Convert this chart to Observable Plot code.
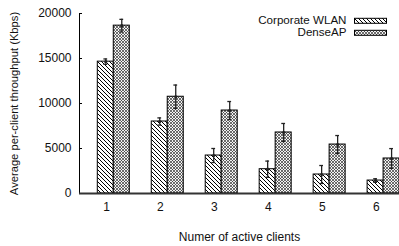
<!DOCTYPE html>
<html>
<head>
<meta charset="utf-8">
<script src="https://cdn.jsdelivr.net/npm/d3@7"></script>
<script src="https://cdn.jsdelivr.net/npm/@observablehq/plot@0.6"></script>
<style>
  html, body { margin: 0; padding: 0; background: #fff; }
  #chart { width: 399px; height: 246px; }
  svg { font-family: "Liberation Sans", Arial, Helvetica, sans-serif; }
</style>
</head>
<body>
<div id="chart"></div>
<script>
const clients = [1, 2, 3, 4, 5, 6];
const corporate = [14650, 8000, 4220, 2700, 2110, 1440];
const corporateErr = [300, 400, 780, 900, 1000, 200];
const dense = [18650, 10750, 9220, 6780, 5440, 3890];
const denseErr = [700, 1300, 1000, 1000, 1000, 1100];
const yTicks = [0, 5000, 10000, 15000, 20000];
const seriesNames = ["Corporate WLAN", "DenseAP"];
const xTitle = "Numer of active clients";
const yTitle = "Average per-client throughput (Kbps)";

// bar offsets within a cluster (in x units), relative to the tick position
const off = [[-0.161, 0.135], [0.135, 0.432]];
const fills = ["url(#hatch)", "url(#mesh)"];

const rows = [];
clients.forEach((c, i) => {
  rows.push({c, s: 0, v: corporate[i], e: corporateErr[i]});
  rows.push({c, s: 1, v: dense[i], e: denseErr[i]});
});
const mid = d => d.c + (off[d.s][0] + off[d.s][1]) / 2;
const cap = 0.035;

const marks = [
  Plot.rectY(rows.filter(d => d.s === 0), {x1: d => d.c + off[0][0], x2: d => d.c + off[0][1], y: "v", fill: fills[0], stroke: "#000", strokeWidth: 1}),
  Plot.rectY(rows.filter(d => d.s === 1), {x1: d => d.c + off[1][0], x2: d => d.c + off[1][1], y: "v", fill: fills[1], stroke: "#000", strokeWidth: 1}),
  Plot.ruleX(rows, {x: mid, y1: d => d.v - d.e, y2: d => d.v + d.e, stroke: "#222", strokeWidth: 1.3}),
  Plot.ruleY(rows, {y: d => d.v + d.e, x1: d => mid(d) - cap, x2: d => mid(d) + cap, stroke: "#222", strokeWidth: 1.3}),
  Plot.ruleY(rows, {y: d => d.v - d.e, x1: d => mid(d) - cap, x2: d => mid(d) + cap, stroke: "#222", strokeWidth: 1.3}),
  Plot.dot(rows, {x: mid, y: "v", r: 1.6, fill: "#222"}),
  Plot.ruleX([0.5], {y1: 0, y2: 20000, stroke: "#000", strokeWidth: 1}),
  Plot.tickY(yTicks, {y: d => d, insetRight: 317, stroke: "#000"}),
  Plot.ruleY([0], {stroke: "#333", strokeWidth: 2}),
  Plot.axisY({ticks: yTicks, tickSize: 0, tickPadding: 8, tickFormat: d => String(d), label: null, fontSize: 12, fill: "#111"}),
  Plot.axisX({ticks: clients, tickSize: 0, tickPadding: 9, tickFormat: d => String(d), label: null, fontSize: 12, fill: "#111"}),
  Plot.text([yTitle], {frameAnchor: "left", rotate: -90, dx: -65, fontSize: 11.2, fill: "#111", textAnchor: "middle", lineAnchor: "middle"}),
  Plot.text([xTitle], {frameAnchor: "bottom", dy: 44, fontSize: 12, fill: "#111", textAnchor: "middle", lineAnchor: "middle"})
];

const chart = Plot.plot({
  width: 399,
  height: 246,
  marginLeft: 79,
  marginRight: 0,
  marginTop: 13,
  marginBottom: 53,
  style: {fontFamily: '"Liberation Sans", Arial, Helvetica, sans-serif', background: "#fff"},
  x: {type: "linear", domain: [0.5, 6.43], axis: null},
  y: {domain: [0, 20000], axis: null},
  marks
});

const svg = d3.select(chart);
const defs = svg.insert("defs", ":first-child");
const hatch = defs.append("pattern").attr("id", "hatch").attr("patternUnits", "userSpaceOnUse").attr("width", 4).attr("height", 4);
hatch.append("rect").attr("width", 4).attr("height", 4).attr("fill", "#fff");
hatch.append("path").attr("d", "M-1,-1L5,5M-1,3L1,5M3,-1L5,1").attr("stroke", "#000").attr("stroke-width", 1);
const mesh = defs.append("pattern").attr("id", "mesh").attr("patternUnits", "userSpaceOnUse").attr("width", 3).attr("height", 3);
mesh.append("rect").attr("width", 3).attr("height", 3).attr("fill", "#f2f2f2");
mesh.append("path").attr("d", "M-1,-1L4,4M-1,2L1,4M2,-1L4,1M-1,4L4,-1M-1,1L1,-1M2,4L4,2")
  .attr("stroke", "#333").attr("stroke-width", 0.7);

// legend
const lg = svg.append("g").attr("class", "legend");
seriesNames.forEach((name, i) => {
  const cy = 20.3 + i * 12;
  lg.append("text").attr("x", 346.5).attr("y", cy).attr("dy", "0.35em").attr("text-anchor", "end")
    .attr("font-size", 11.6).attr("fill", "#111").text(name);
  lg.append("rect").attr("x", 354.5).attr("y", cy - 2).attr("width", 32).attr("height", 5)
    .attr("fill", fills[i]).attr("stroke", "#000").attr("stroke-width", 1);
});

document.getElementById("chart").appendChild(chart);
</script>
</body>
</html>
